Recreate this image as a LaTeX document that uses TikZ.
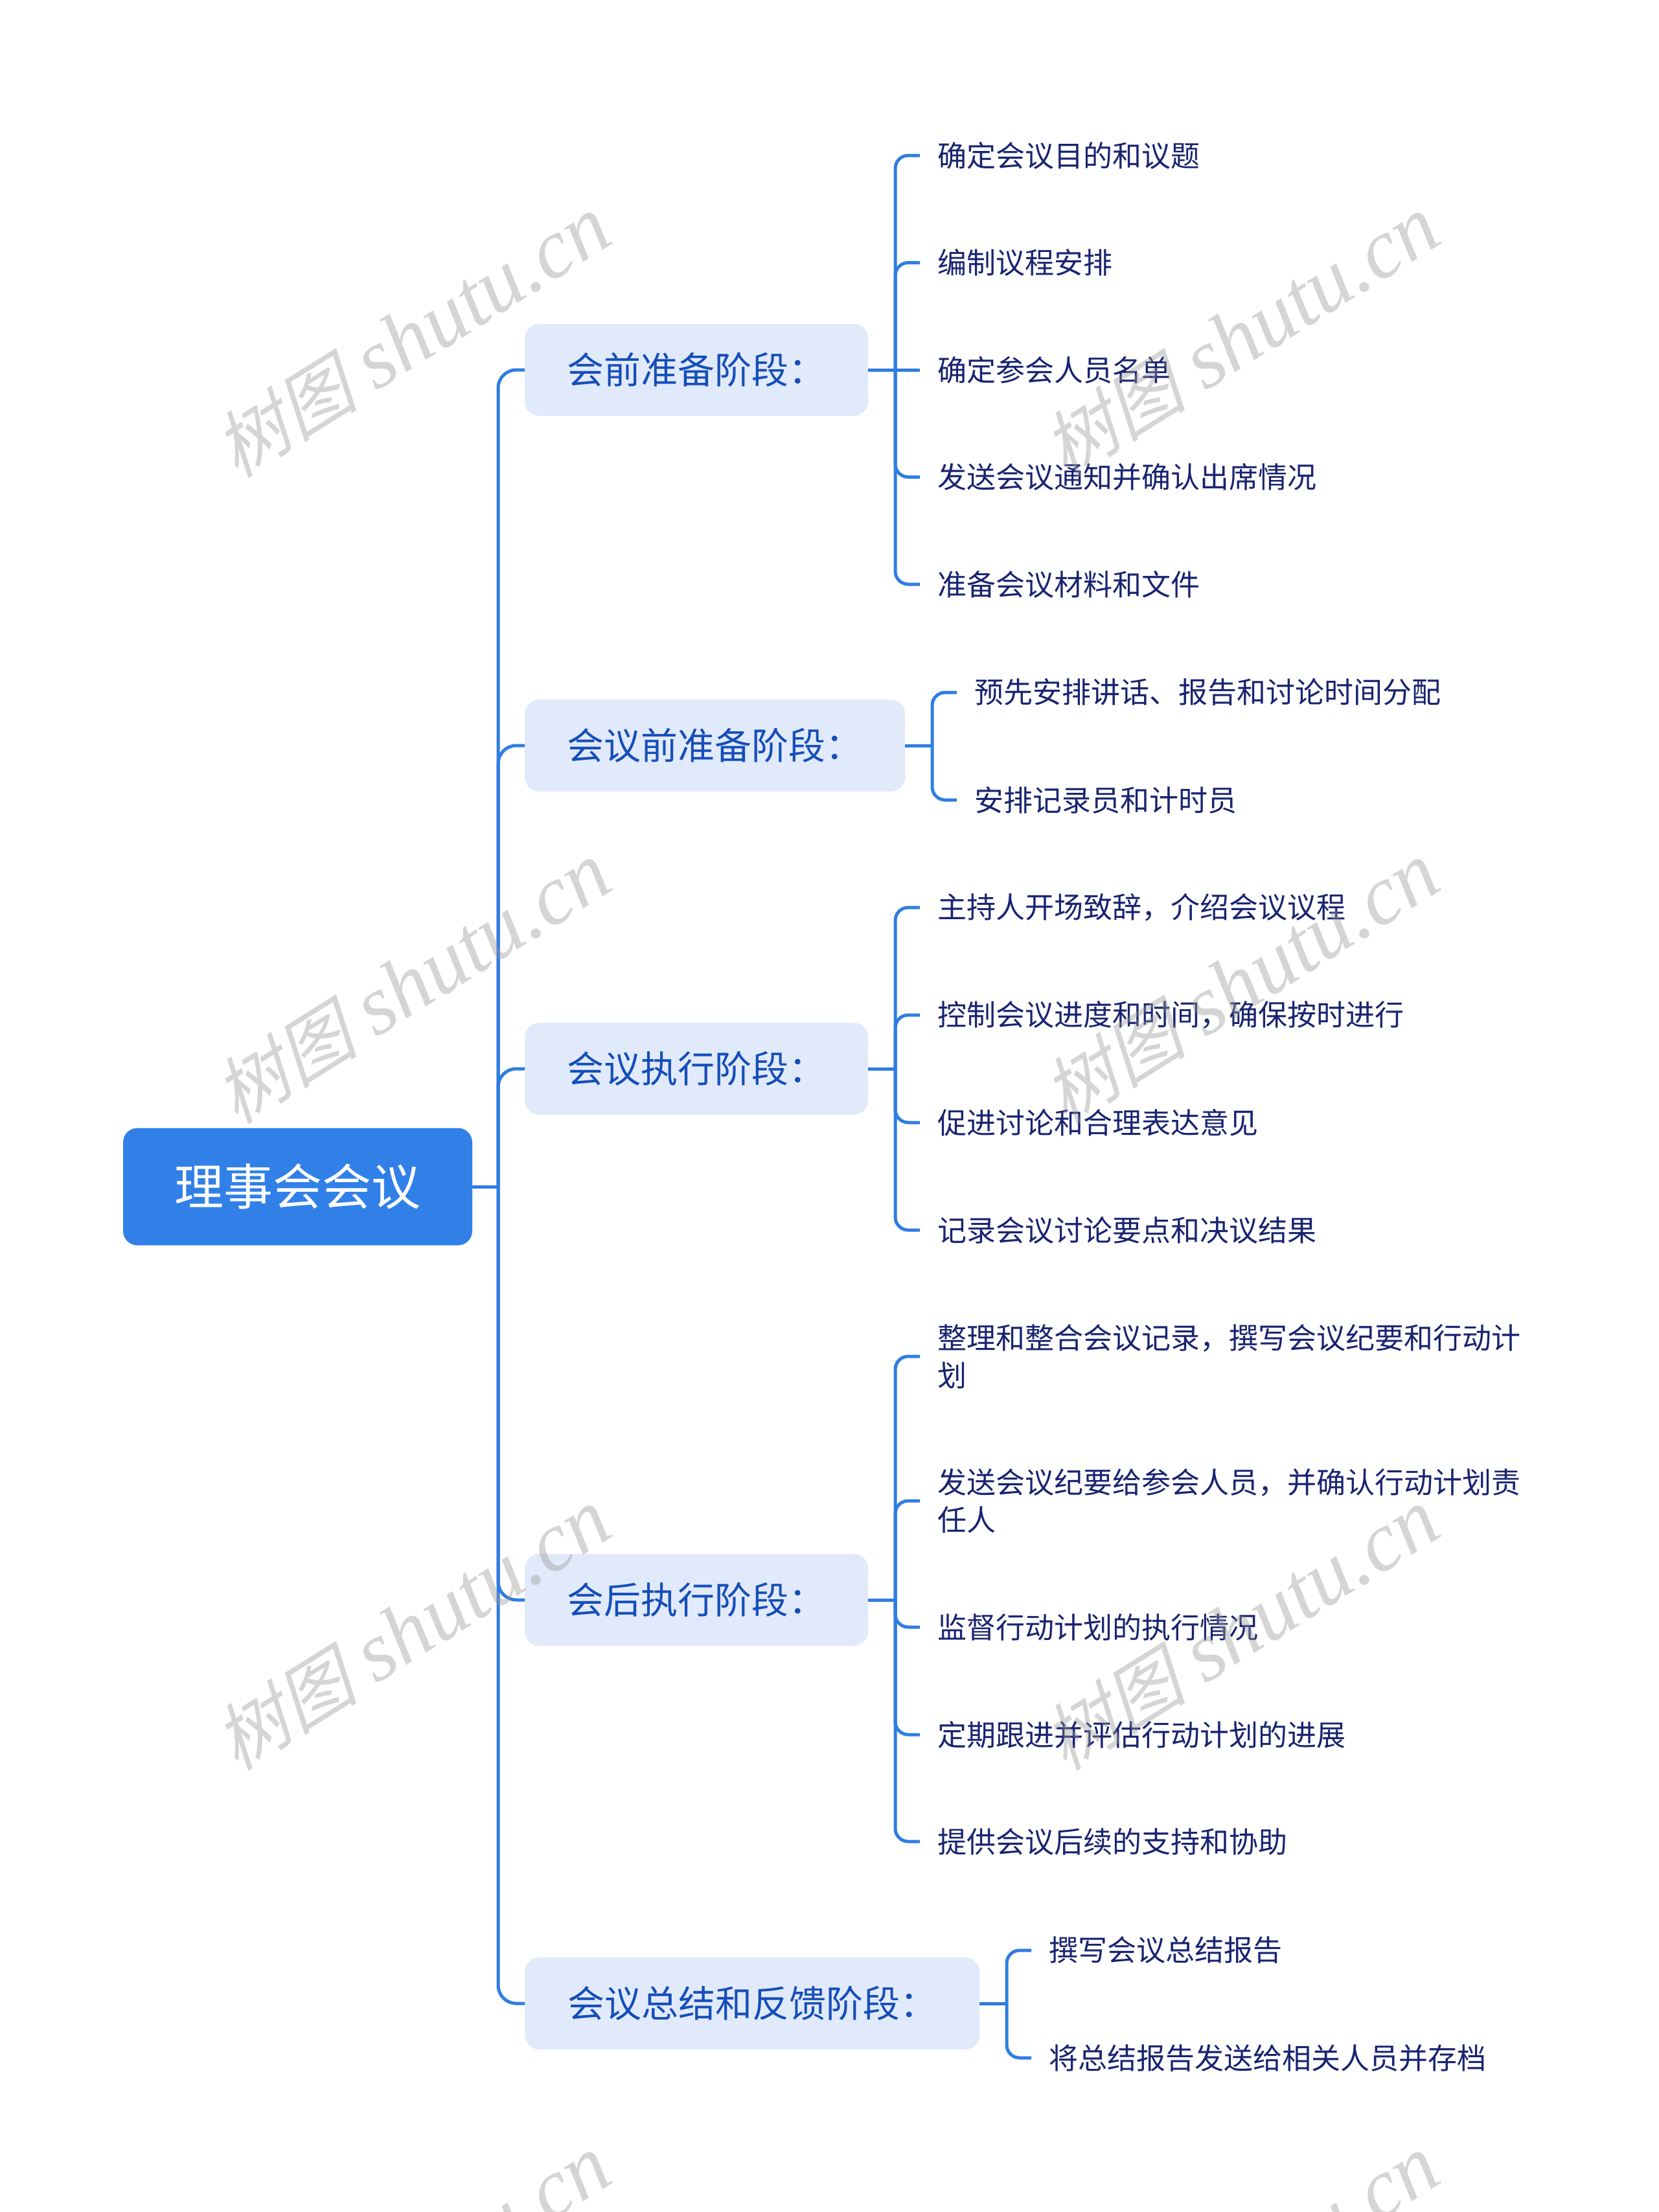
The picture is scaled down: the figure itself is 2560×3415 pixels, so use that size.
\documentclass[tikz,border=0pt]{standalone}
\usepackage{fontspec}
\setmainfont{Noto Sans CJK SC}
\newfontfamily\wmcjk{Noto Sans CJK SC}[FakeSlant=0.25]
\newfontfamily\wmlat{Liberation Serif}
\definecolor{linec}{RGB}{47,125,225}
\definecolor{rootc}{RGB}{49,128,232}
\definecolor{branchfill}{RGB}{225,234,251}
\definecolor{branchtxt}{RGB}{22,78,185}
\definecolor{leaftxt}{RGB}{24,36,112}
\definecolor{wmc}{RGB}{150,150,150}
\newcommand{\wmtext}{{\wmcjk\fontsize{112}{112}\selectfont 树图}\hspace{30pt}{\wmlat\itshape\fontsize{130}{130}\selectfont shutu.cn}}
\begin{document}
\begin{tikzpicture}[x=1pt,y=-1pt,
  rootnode/.style={fill=rootc, rounded corners=22pt, text=white, font=\fontsize{76}{90}\selectfont, minimum width=539pt, minimum height=181pt, inner sep=0pt},
  branchnode/.style={fill=branchfill, rounded corners=22pt, text=branchtxt, font=\fontsize{57}{68}\selectfont, minimum height=142pt, inner sep=0pt, anchor=west},
  leafnode/.style={text=leaftxt, font=\fontsize{45}{58}\selectfont, anchor=west, align=left, inner xsep=27pt, inner ysep=0pt},
  conn/.style={draw=linec, line width=5pt},
  spine/.style={conn, rounded corners=28pt},
  bracket/.style={conn, rounded corners=20pt},
  wmark/.style={rotate=32, text=wmc, opacity=0.4, inner sep=0pt}
]
\fill[white] (0,0) rectangle (2560,3415);
\useasboundingbox (0,0) rectangle (2560,3415);

% root
\node[rootnode] (root) at (459.5,1832) {理事会会议};

% branches
\node[branchnode, minimum width=530pt] (b1) at (810,571) {会前准备阶段：};
\node[branchnode, minimum width=587pt] (b2) at (810,1151) {会议前准备阶段：};
\node[branchnode, minimum width=530pt] (b3) at (810,1650) {会议执行阶段：};
\node[branchnode, minimum width=530pt] (b4) at (810,2470) {会后执行阶段：};
\node[branchnode, minimum width=702pt] (b5) at (810,3093) {会议总结和反馈阶段：};

% spine
\coordinate (sj) at (769,1832);
\draw[conn] (root.east) -- (sj);
\foreach \b in {b1,b2,b3,b4,b5} {\draw[spine] (sj) |- (\b.west);}

% leaves of b1
\node[leafnode] (l11) at (1420,240) {确定会议目的和议题};
\node[leafnode] (l12) at (1420,405.5) {编制议程安排};
\node[leafnode] (l13) at (1420,571) {确定参会人员名单};
\node[leafnode] (l14) at (1420,736.5) {发送会议通知并确认出席情况};
\node[leafnode] (l15) at (1420,902) {准备会议材料和文件};
\coordinate (j1) at (1382,571);
\draw[conn] (b1.east) -- (j1);
\draw[bracket] (j1) |- (l11.west);
\draw[bracket] (j1) |- (l12.west);
\draw[conn] (j1) -- (l13.west);
\draw[bracket] (j1) |- (l14.west);
\draw[bracket] (j1) |- (l15.west);

% leaves of b2
\node[leafnode] (l21) at (1477,1069) {预先安排讲话、报告和讨论时间分配};
\node[leafnode] (l22) at (1477,1235) {安排记录员和计时员};
\coordinate (j2) at (1439,1151);
\draw[conn] (b2.east) -- (j2);
\draw[bracket] (j2) |- (l21.west);
\draw[bracket] (j2) |- (l22.west);

% leaves of b3
\node[leafnode] (l31) at (1420,1401) {主持人开场致辞，介绍会议议程};
\node[leafnode] (l32) at (1420,1567) {控制会议进度和时间，确保按时进行};
\node[leafnode] (l33) at (1420,1733) {促进讨论和合理表达意见};
\node[leafnode] (l34) at (1420,1899) {记录会议讨论要点和决议结果};
\coordinate (j3) at (1382,1650);
\draw[conn] (b3.east) -- (j3);
\draw[bracket] (j3) |- (l31.west);
\draw[bracket] (j3) |- (l32.west);
\draw[bracket] (j3) |- (l33.west);
\draw[bracket] (j3) |- (l34.west);

% leaves of b4
\node[leafnode] (l41) at (1420,2094) {整理和整合会议记录，撰写会议纪要和行动计\\划};
\node[leafnode] (l42) at (1420,2317) {发送会议纪要给参会人员，并确认行动计划责\\任人};
\node[leafnode] (l43) at (1420,2512) {监督行动计划的执行情况};
\node[leafnode] (l44) at (1420,2678) {定期跟进并评估行动计划的进展};
\node[leafnode] (l45) at (1420,2843) {提供会议后续的支持和协助};
\coordinate (j4) at (1382,2470);
\draw[conn] (b4.east) -- (j4);
\draw[bracket] (j4) |- (l41.west);
\draw[bracket] (j4) |- (l42.west);
\draw[bracket] (j4) |- (l43.west);
\draw[bracket] (j4) |- (l44.west);
\draw[bracket] (j4) |- (l45.west);

% leaves of b5
\node[leafnode] (l51) at (1592,3011) {撰写会议总结报告};
\node[leafnode] (l52) at (1592,3177) {将总结报告发送给相关人员并存档};
\coordinate (j5) at (1554,3093);
\draw[conn] (b5.east) -- (j5);
\draw[bracket] (j5) |- (l51.west);
\draw[bracket] (j5) |- (l52.west);

% watermarks
\node[wmark] (wm1) at (636,520) {\wmtext};
\node[wmark] (wm2) at (1915,520) {\wmtext};
\node[wmark] (wm3) at (636,1518) {\wmtext};
\node[wmark] (wm4) at (1915,1518) {\wmtext};
\node[wmark] (wm5) at (636,2516) {\wmtext};
\node[wmark] (wm6) at (1915,2516) {\wmtext};
\node[wmark] (wm7) at (636,3514) {\wmtext};
\node[wmark] (wm8) at (1915,3514) {\wmtext};
\end{tikzpicture}
\end{document}
